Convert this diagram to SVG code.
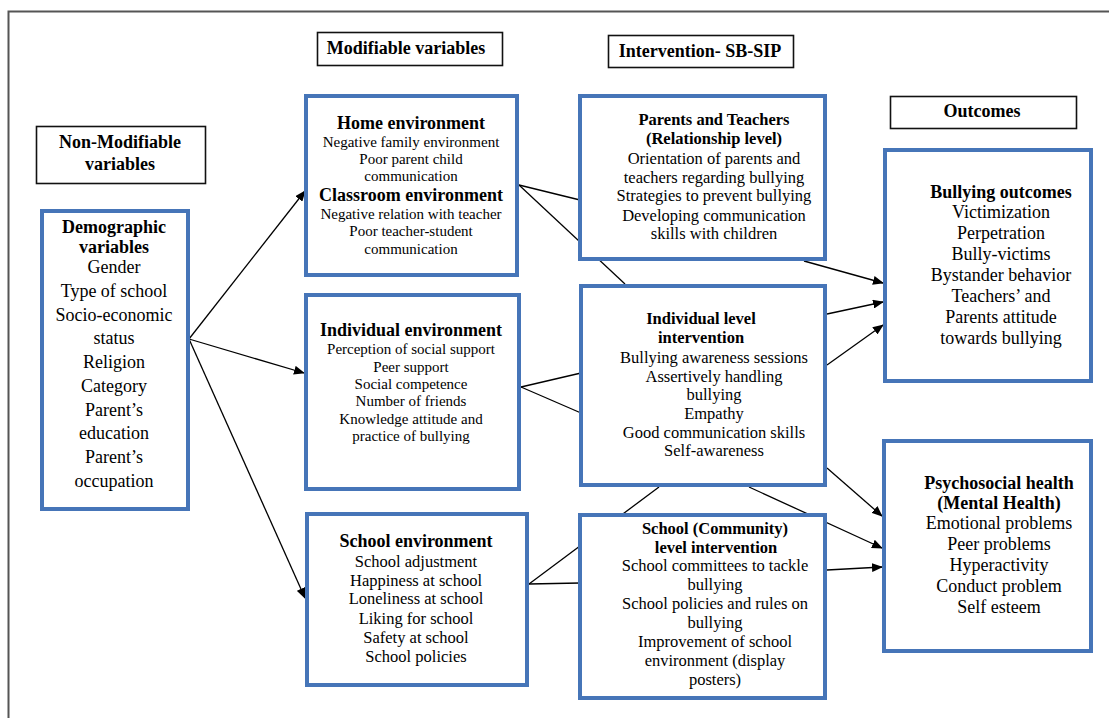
<svg xmlns="http://www.w3.org/2000/svg" width="1109" height="718" viewBox="0 0 1109 718" font-family="'Liberation Serif', Tinos, 'Times New Roman', 'Noto Serif', 'DejaVu Serif', serif">
<style>
text{font-family:'Liberation Serif',Tinos,'Times New Roman','Noto Serif','DejaVu Serif',serif;fill:#000;text-anchor:middle}
.h{font-weight:bold;font-size:18px}
.hs{font-weight:bold;font-size:16.5px}
.r18{font-size:18px}
.r16{font-size:16.5px}
.r15{font-size:15px}
.blue{fill:#fff;stroke:#4675b8;stroke-width:4}
.lab{fill:#fff;stroke:#111;stroke-width:1.6}
.c{stroke:#000;stroke-width:1.3;fill:none}
.a{marker-end:url(#ah)}
</style>
<defs>
<marker id="ah" markerUnits="userSpaceOnUse" markerWidth="11" markerHeight="9" refX="10" refY="4.5" orient="auto">
<path d="M0,0 L11,4.5 L0,9 z" fill="#000"/>
</marker>
</defs>
<rect width="1109" height="718" fill="#fff"/>
<g id="frame" stroke="#555" stroke-width="2" fill="none">
<path d="M8.5,718 L8.5,11.5 L1109,11.5"/>
</g>
<g id="connectors">
<line class="c a" x1="189" y1="339" x2="305" y2="191"/>
<line class="c a" x1="189" y1="339" x2="304" y2="373"/>
<line class="c a" x1="189" y1="339" x2="305" y2="598"/>
<line class="c" x1="519" y1="185" x2="580" y2="200"/>
<line class="c" x1="519" y1="185" x2="625" y2="284"/>
<line class="c" x1="521" y1="387" x2="581" y2="373"/>
<line class="c" x1="521" y1="387" x2="581" y2="413"/>
<line class="c" x1="529" y1="584" x2="659" y2="487"/>
<line class="c" x1="529" y1="584" x2="580" y2="583"/>
<line class="c a" x1="749" y1="487" x2="882" y2="548"/>
<line class="c a" x1="804" y1="261" x2="883" y2="283"/>
<line class="c a" x1="827" y1="314" x2="883" y2="302"/>
<line class="c a" x1="827" y1="365" x2="883" y2="325"/>
<line class="c a" x1="827" y1="468" x2="882" y2="516"/>
<line class="c a" x1="827" y1="570" x2="882" y2="567"/>
</g>
<g id="lbl-modifiable">
<rect class="lab" x="317.5" y="32.5" width="185" height="33"/>
<text class="h" x="406" y="54">Modifiable variables</text>
</g>
<g id="lbl-nonmodifiable">
<rect class="lab" x="36.5" y="126.5" width="169" height="57"/>
<text class="h" x="120" y="148">Non-Modifiable</text>
<text class="h" x="120" y="170">variables</text>
</g>
<g id="lbl-intervention">
<rect class="lab" x="608.5" y="35.5" width="185" height="32"/>
<text class="h" x="700" y="57">Intervention- SB-SIP</text>
</g>
<g id="lbl-outcomes">
<rect class="lab" x="890.5" y="96.5" width="186" height="32"/>
<text class="h" x="982" y="117">Outcomes</text>
</g>
<g id="demographic">
<rect class="blue" x="42" y="211" width="146" height="298"/>
<text class="h" x="114" y="233">Demographic</text>
<text class="h" x="114" y="253">variables</text>
<text class="r18" x="114" y="273">Gender</text>
<text class="r18" x="114" y="297">Type of school</text>
<text class="r18" x="114" y="321">Socio-economic</text>
<text class="r18" x="114" y="344">status</text>
<text class="r18" x="114" y="368">Religion</text>
<text class="r18" x="114" y="392">Category</text>
<text class="r18" x="114" y="416">Parent’s</text>
<text class="r18" x="114" y="439">education</text>
<text class="r18" x="114" y="463">Parent’s</text>
<text class="r18" x="114" y="487">occupation</text>
</g>
<g id="home">
<rect class="blue" x="306" y="96" width="211" height="179"/>
<text class="h" x="411" y="129">Home environment</text>
<text class="r15" x="411" y="147">Negative family environment</text>
<text class="r15" x="411" y="164">Poor parent child</text>
<text class="r15" x="411" y="181">communication</text>
<text class="h" x="411" y="201">Classroom environment</text>
<text class="r15" x="411" y="219">Negative relation with teacher</text>
<text class="r15" x="411" y="236">Poor teacher-student</text>
<text class="r15" x="411" y="254">communication</text>
</g>
<g id="individual-env">
<rect class="blue" x="306" y="295" width="213" height="194"/>
<text class="h" x="411" y="336">Individual environment</text>
<text class="r15" x="411" y="354">Perception of social support</text>
<text class="r15" x="411" y="372">Peer support</text>
<text class="r15" x="411" y="389">Social competence</text>
<text class="r15" x="411" y="406">Number of friends</text>
<text class="r15" x="411" y="424">Knowledge attitude and</text>
<text class="r15" x="411" y="441">practice of bullying</text>
</g>
<g id="school-env">
<rect class="blue" x="307" y="514" width="220" height="171"/>
<text class="h" x="416" y="547">School environment</text>
<text class="r16" x="416" y="567">School adjustment</text>
<text class="r16" x="416" y="586">Happiness at school</text>
<text class="r16" x="416" y="604">Loneliness at school</text>
<text class="r16" x="416" y="624">Liking for school</text>
<text class="r16" x="416" y="643">Safety at school</text>
<text class="r16" x="416" y="662">School policies</text>
</g>
<g id="parents-teachers">
<rect class="blue" x="580" y="96" width="245" height="163"/>
<text class="hs" x="714" y="125">Parents and Teachers</text>
<text class="hs" x="714" y="144">(Relationship level)</text>
<text class="r16" x="714" y="164">Orientation of parents and</text>
<text class="r16" x="714" y="183">teachers regarding bullying</text>
<text class="r16" x="714" y="201">Strategies to prevent bullying</text>
<text class="r16" x="714" y="221">Developing communication</text>
<text class="r16" x="714" y="239">skills with children</text>
</g>
<g id="individual-level">
<rect class="blue" x="581" y="286" width="244" height="199"/>
<text class="hs" x="701" y="324">Individual level</text>
<text class="hs" x="701" y="343">intervention</text>
<text class="r16" x="714" y="363">Bullying awareness sessions</text>
<text class="r16" x="714" y="382">Assertively handling</text>
<text class="r16" x="714" y="400">bullying</text>
<text class="r16" x="714" y="419">Empathy</text>
<text class="r16" x="714" y="438">Good communication skills</text>
<text class="r16" x="714" y="456">Self-awareness</text>
</g>
<g id="school-community">
<rect class="blue" x="580" y="515" width="245" height="183"/>
<text class="hs" x="715" y="534">School (Community)</text>
<text class="hs" x="716" y="553">level intervention</text>
<text class="r16" x="715" y="571">School committees to tackle</text>
<text class="r16" x="715" y="590">bullying</text>
<text class="r16" x="715" y="609">School policies and rules on</text>
<text class="r16" x="715" y="628">bullying</text>
<text class="r16" x="715" y="647">Improvement of school</text>
<text class="r16" x="715" y="666">environment (display</text>
<text class="r16" x="715" y="685">posters)</text>
</g>
<g id="bullying-outcomes">
<rect class="blue" x="885" y="150" width="206" height="231"/>
<text class="h" x="1001" y="198">Bullying outcomes</text>
<text class="r18" x="1001" y="218">Victimization</text>
<text class="r18" x="1001" y="239">Perpetration</text>
<text class="r18" x="1001" y="260">Bully-victims</text>
<text class="r18" x="1001" y="281">Bystander behavior</text>
<text class="r18" x="1001" y="302">Teachers’ and</text>
<text class="r18" x="1001" y="323">Parents attitude</text>
<text class="r18" x="1001" y="344">towards bullying</text>
</g>
<g id="psychosocial">
<rect class="blue" x="884" y="441" width="207" height="210"/>
<text class="h" x="999" y="489">Psychosocial health</text>
<text class="h" x="999" y="509">(Mental Health)</text>
<text class="r18" x="999" y="529">Emotional problems</text>
<text class="r18" x="999" y="550">Peer problems</text>
<text class="r18" x="999" y="571">Hyperactivity</text>
<text class="r18" x="999" y="592">Conduct problem</text>
<text class="r18" x="999" y="613">Self esteem</text>
</g>
</svg>
